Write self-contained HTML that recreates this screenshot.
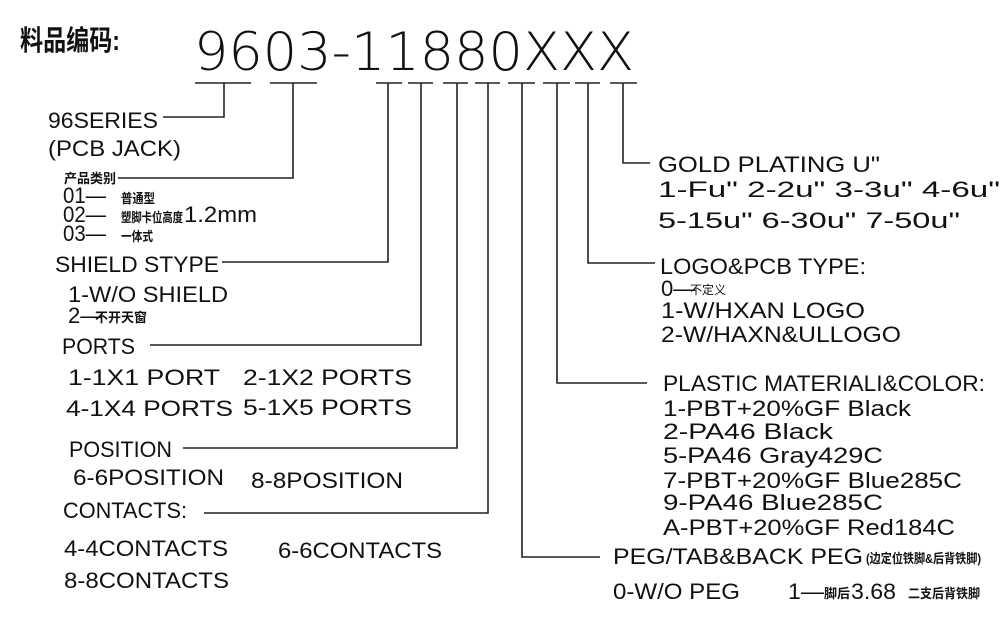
<!DOCTYPE html>
<html><head><meta charset="utf-8"><style>
html,body{margin:0;padding:0;background:#fff;}
svg{display:block;}
text{font-family:"Liberation Sans","Noto Sans CJK SC",sans-serif;fill:#111;}
.t{font-size:22px;}
.c{font-size:13px;font-weight:bold;}
.big{font-family:"DejaVu Sans ExtraLight","DejaVu Sans","Liberation Sans",sans-serif;font-weight:200;font-size:53px;}
</style></head><body>
<svg width="1000" height="621" viewBox="0 0 1000 621" xmlns="http://www.w3.org/2000/svg">
<g stroke="#222" stroke-width="1.6" fill="none">
<line x1="195" y1="83" x2="251" y2="83"/><line x1="270" y1="83" x2="317" y2="83"/>
<line x1="376" y1="83" x2="402" y2="83"/><line x1="408" y1="83" x2="433" y2="83"/>
<line x1="443" y1="83" x2="468" y2="83"/><line x1="475" y1="83" x2="500" y2="83"/>
<line x1="508" y1="83" x2="535" y2="83"/><line x1="543" y1="83" x2="570" y2="83"/>
<line x1="575" y1="83" x2="600" y2="83"/><line x1="610" y1="83" x2="637" y2="83"/>
<polyline points="224,83 224,117 163,117"/>
<polyline points="293,83 293,178 118,178"/>
<polyline points="388,83 388,262 222,262"/>
<polyline points="421,83 421,345 150,345"/>
<polyline points="457,83 457,448 183,448"/>
<polyline points="488,83 488,513 204,513"/>
<polyline points="522,83 522,557 600,557"/>
<polyline points="557,83 557,383 647,383"/>
<polyline points="588,83 588,263 655,263"/>
<polyline points="623,83 623,163 650,163"/>
</g>
<text x="20" y="50" style="font-size:28px;font-weight:bold" textLength="100" lengthAdjust="spacingAndGlyphs">料品编码:</text>
<text class="big" x="194" y="70" textLength="440" lengthAdjust="spacingAndGlyphs">9603-11880XXX</text>

<text class="t" x="48" y="128" textLength="110" lengthAdjust="spacingAndGlyphs">96SERIES</text>
<text class="t" x="48" y="156" textLength="133" lengthAdjust="spacingAndGlyphs">(PCB JACK)</text>
<text class="c" x="64" y="183">产品类别</text>
<text class="t" x="63" y="203" textLength="43" lengthAdjust="spacingAndGlyphs">01—</text><text class="c" x="121" y="203" textLength="34" lengthAdjust="spacingAndGlyphs">普通型</text>
<text class="t" x="63" y="222" textLength="43" lengthAdjust="spacingAndGlyphs">02—</text><text class="c" x="121" y="222" textLength="62" lengthAdjust="spacingAndGlyphs">塑脚卡位高度</text><text class="t" x="184" y="222" textLength="73" lengthAdjust="spacingAndGlyphs">1.2mm</text>
<text class="t" x="63" y="241" textLength="43" lengthAdjust="spacingAndGlyphs">03—</text><text class="c" x="121" y="241" textLength="32" lengthAdjust="spacingAndGlyphs">一体式</text>
<text class="t" x="55" y="272" textLength="164" lengthAdjust="spacingAndGlyphs">SHIELD STYPE</text>
<text class="t" x="68" y="302" textLength="160" lengthAdjust="spacingAndGlyphs">1-W/O SHIELD</text>
<text class="t" x="68" y="323">2—</text><text class="c" x="95" y="322">不开天窗</text>
<text class="t" x="62" y="354" textLength="73" lengthAdjust="spacingAndGlyphs">PORTS</text>
<text class="t" x="68" y="385" textLength="152" lengthAdjust="spacingAndGlyphs">1-1X1 PORT</text>
<text class="t" x="243" y="385" textLength="169" lengthAdjust="spacingAndGlyphs">2-1X2 PORTS</text>
<text class="t" x="66" y="416" textLength="167" lengthAdjust="spacingAndGlyphs">4-1X4 PORTS</text>
<text class="t" x="243" y="415" textLength="169" lengthAdjust="spacingAndGlyphs">5-1X5 PORTS</text>
<text class="t" x="69" y="457" textLength="103" lengthAdjust="spacingAndGlyphs">POSITION</text>
<text class="t" x="73" y="485" textLength="151" lengthAdjust="spacingAndGlyphs">6-6POSITION</text>
<text class="t" x="251" y="488" textLength="152" lengthAdjust="spacingAndGlyphs">8-8POSITION</text>
<text class="t" x="63" y="518" textLength="124" lengthAdjust="spacingAndGlyphs">CONTACTS:</text>
<text class="t" x="64" y="556" textLength="164" lengthAdjust="spacingAndGlyphs">4-4CONTACTS</text>
<text class="t" x="278" y="558" textLength="164" lengthAdjust="spacingAndGlyphs">6-6CONTACTS</text>
<text class="t" x="64" y="588" textLength="165" lengthAdjust="spacingAndGlyphs">8-8CONTACTS</text>

<text class="t" x="658" y="172" textLength="222" lengthAdjust="spacingAndGlyphs">GOLD PLATING  U"</text>
<text class="t" x="658" y="197" textLength="342" lengthAdjust="spacingAndGlyphs">1-Fu" 2-2u" 3-3u" 4-6u"</text>
<text class="t" x="658" y="228" textLength="302" lengthAdjust="spacingAndGlyphs">5-15u" 6-30u" 7-50u"</text>
<text class="t" x="660" y="274" textLength="206" lengthAdjust="spacingAndGlyphs">LOGO&amp;PCB TYPE:</text>
<text class="t" x="661" y="296">0—</text><text x="690" y="294" style="font-size:12px">不定义</text>
<text class="t" x="661" y="318" textLength="204" lengthAdjust="spacingAndGlyphs">1-W/HXAN LOGO</text>
<text class="t" x="661" y="342" textLength="240" lengthAdjust="spacingAndGlyphs">2-W/HAXN&amp;ULLOGO</text>
<text class="t" x="663" y="391" textLength="322" lengthAdjust="spacingAndGlyphs">PLASTIC MATERIALI&amp;COLOR:</text>
<text class="t" x="663" y="416" textLength="248" lengthAdjust="spacingAndGlyphs">1-PBT+20%GF Black</text>
<text class="t" x="663" y="439" textLength="170" lengthAdjust="spacingAndGlyphs">2-PA46 Black</text>
<text class="t" x="663" y="463" textLength="220" lengthAdjust="spacingAndGlyphs">5-PA46 Gray429C</text>
<text class="t" x="663" y="488" textLength="299" lengthAdjust="spacingAndGlyphs">7-PBT+20%GF Blue285C</text>
<text class="t" x="663" y="510" textLength="220" lengthAdjust="spacingAndGlyphs">9-PA46 Blue285C</text>
<text class="t" x="663" y="535" textLength="292" lengthAdjust="spacingAndGlyphs">A-PBT+20%GF Red184C</text>
<text class="t" x="613" y="564" textLength="250" lengthAdjust="spacingAndGlyphs">PEG/TAB&amp;BACK PEG</text>
<text class="c" x="866" y="563" textLength="115" lengthAdjust="spacingAndGlyphs">(边定位铁脚&amp;后背铁脚)</text>
<text class="t" x="613" y="599" textLength="127" lengthAdjust="spacingAndGlyphs">0-W/O PEG</text>
<text class="t" x="788" y="599" textLength="36" lengthAdjust="spacingAndGlyphs">1—</text><text class="c" x="824" y="598">脚后</text><text class="t" x="851" y="599" textLength="45" lengthAdjust="spacingAndGlyphs">3.68</text>
<text class="c" x="908" y="598" textLength="72" lengthAdjust="spacingAndGlyphs">二支后背铁脚</text>
</svg>
</body></html>
